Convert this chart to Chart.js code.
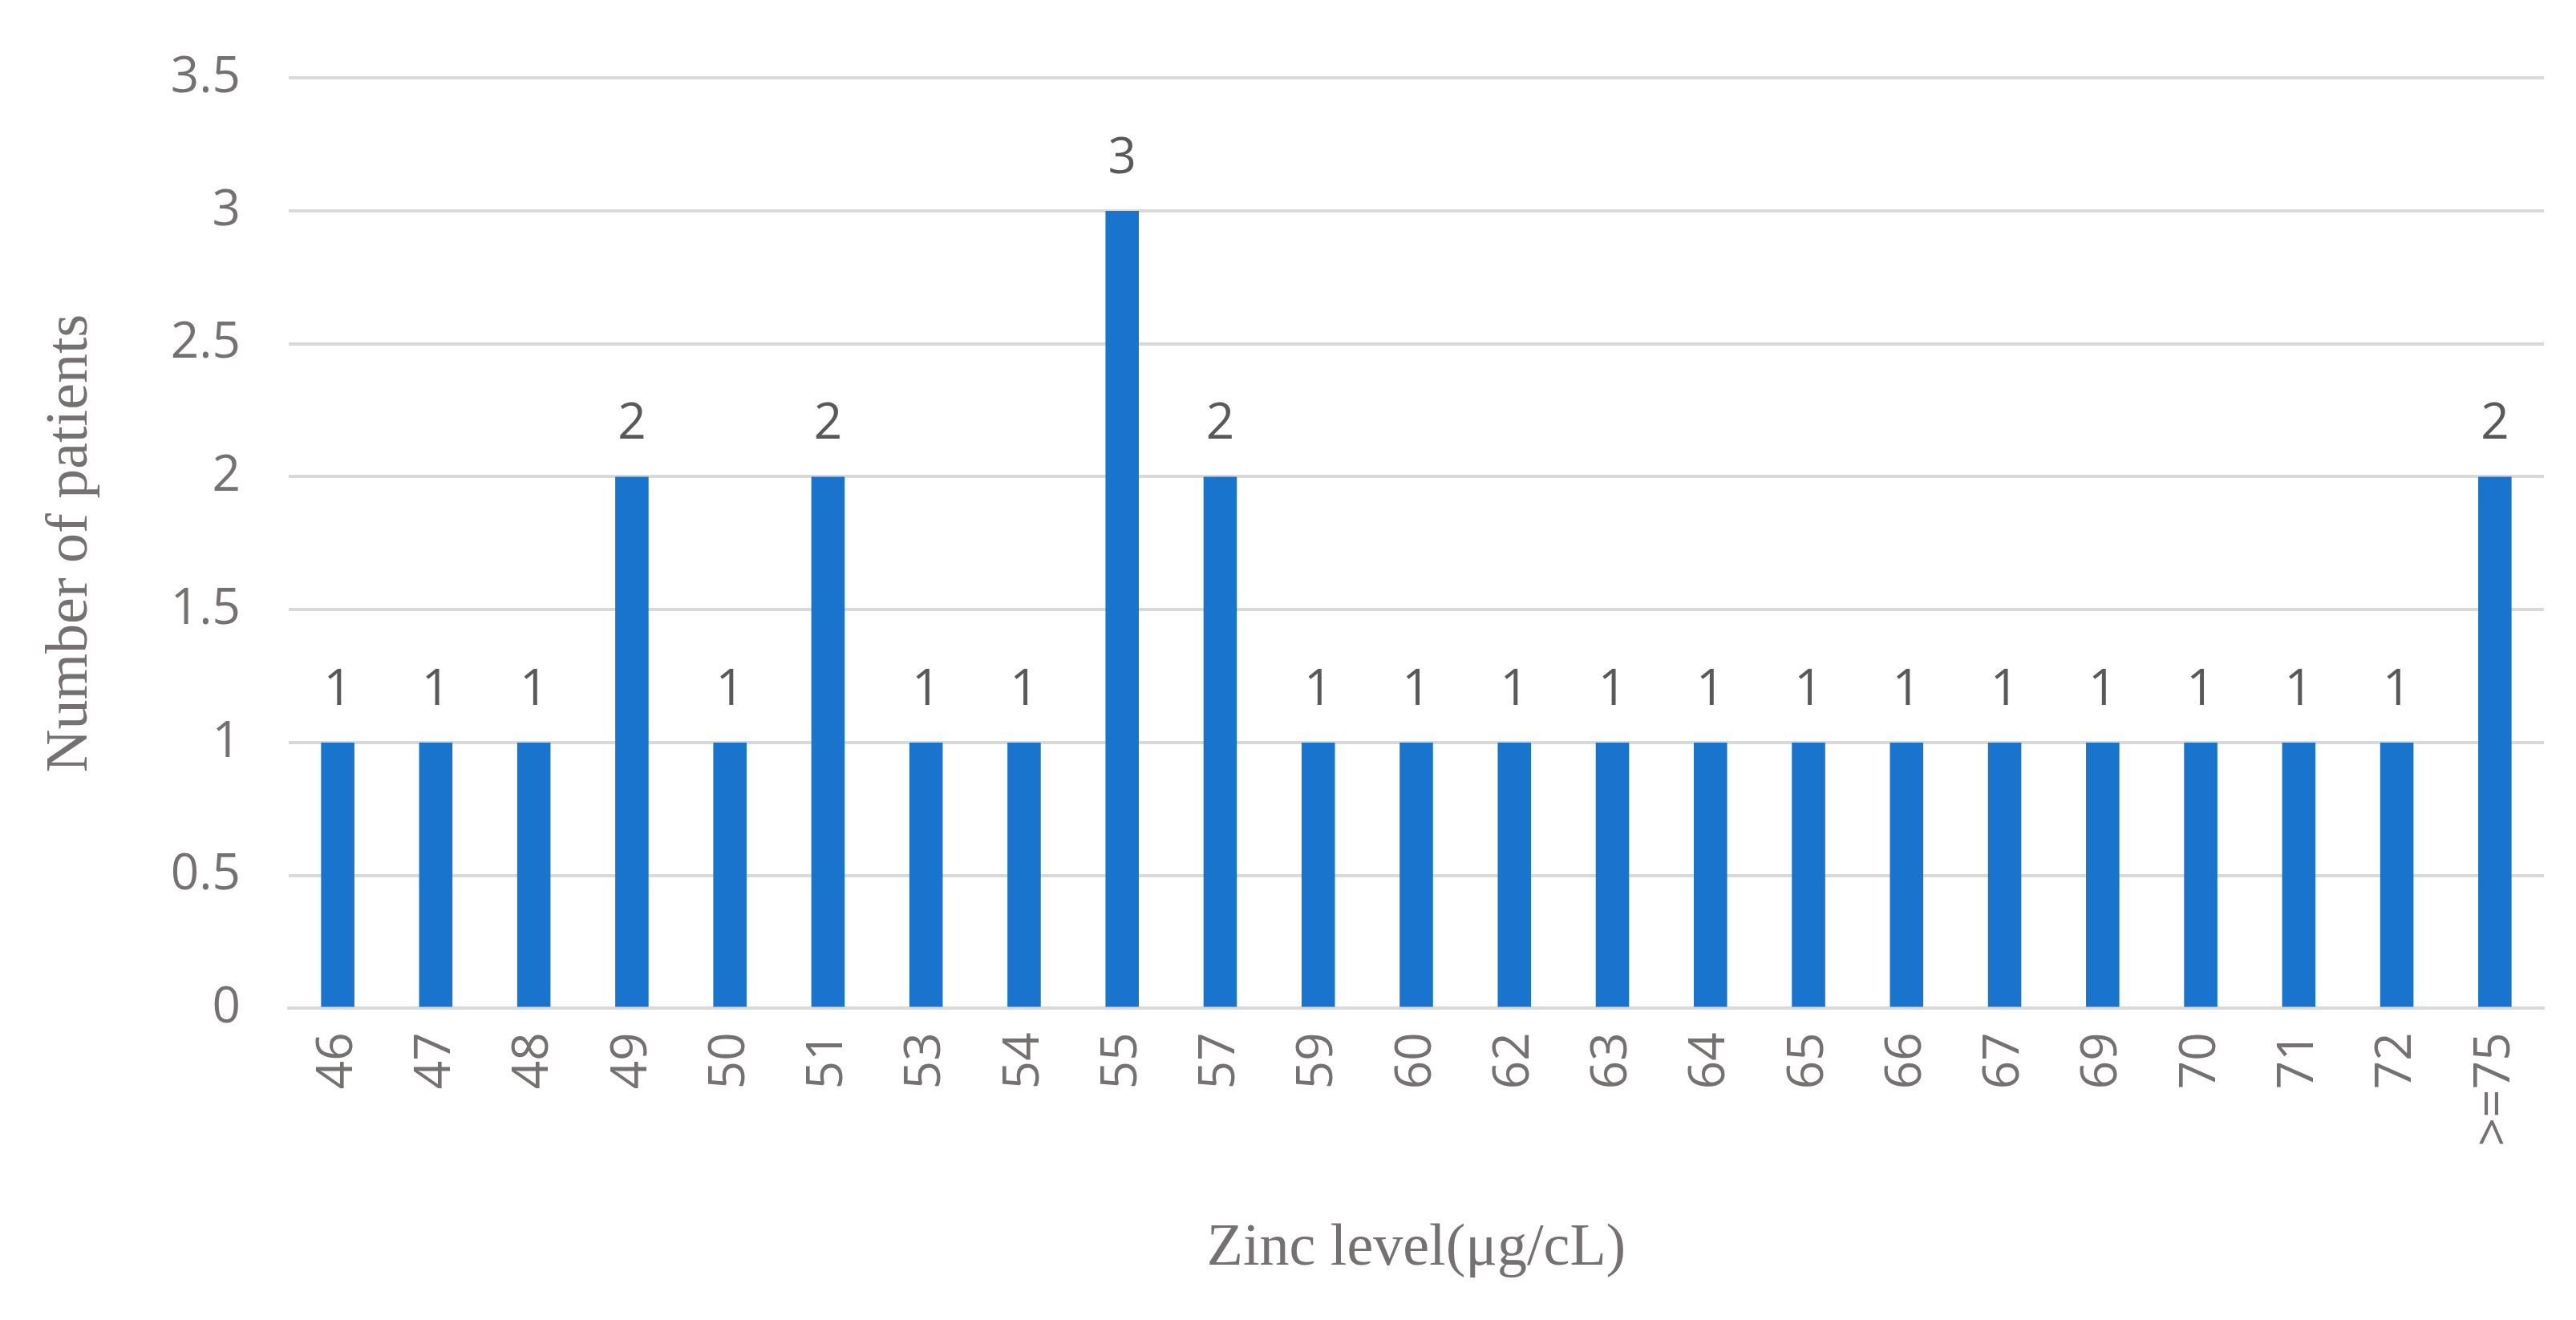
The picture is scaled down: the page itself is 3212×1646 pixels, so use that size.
<!DOCTYPE html>
<html>
<head>
<meta charset="utf-8">
<script src="https://cdn.jsdelivr.net/npm/chart.js@4"></script>
<style>
  html, body { margin: 0; padding: 0; background: #fff; }
  #wrap { width: 3212px; height: 1646px; }
</style>
</head>
<body>
<div id="wrap"><canvas id="grafico" width="3212" height="1646"></canvas></div>
<script>
const categorias = ["46","47","48","49","50","51","53","54","55","57","59","60","62","63","64","65","66","67","69","70","71","72",">=75"];
const pacientes = [1,1,1,2,1,2,1,1,3,2,1,1,1,1,1,1,1,1,1,1,1,1,2];
const gris = "#767171";
const fuenteTicks = "'Open Sans', 'Liberation Sans', sans-serif";
const fuenteTitulo = "'Liberation Serif', 'DejaVu Serif', serif";

// etiquetas de valor encima de cada barra + etiquetas x giradas (abajo hacia arriba)
const etiquetas = {
  id: "etiquetas",
  afterDatasetsDraw(chart) {
    const ctx = chart.ctx;
    const meta = chart.getDatasetMeta(0);
    ctx.save();
    ctx.fillStyle = "#595959";
    ctx.font = "62px " + fuenteTicks;
    ctx.textAlign = "center";
    ctx.textBaseline = "bottom";
    meta.data.forEach((bar, i) => {
      ctx.fillText(pacientes[i], bar.x, bar.y - 34);
    });
    const xs = chart.scales.x;
    ctx.fillStyle = gris;
    ctx.textAlign = "right";
    ctx.textBaseline = "middle";
    categorias.forEach((c, i) => {
      const x = xs.getPixelForValue(i);
      ctx.save();
      ctx.translate(x, xs.top + 30);
      ctx.rotate(-Math.PI / 2);
      ctx.fillText(c, 0, 0);
      ctx.restore();
    });
    ctx.restore();
  }
};

new Chart(document.getElementById("grafico"), {
  type: "bar",
  data: {
    labels: categorias,
    datasets: [{
      data: pacientes,
      backgroundColor: "#1874cd",
      categoryPercentage: 1,
      barPercentage: 0.34
    }]
  },
  options: {
    responsive: false,
    devicePixelRatio: 1,
    animation: false,
    layout: { padding: { left: 40, right: 40, top: 70, bottom: 40 } },
    plugins: { legend: { display: false }, tooltip: { enabled: false } },
    scales: {
      x: {
        grid: { display: false },
        border: { color: "#d9d9d9", width: 4 },
        ticks: { color: "rgba(0,0,0,0)", font: { size: 62, family: fuenteTicks }, minRotation: 90, maxRotation: 90, padding: 18 },
        title: { display: true, text: "Zinc level(μg/cL)", color: gris, font: { size: 74, family: fuenteTitulo }, padding: { top: 70 } }
      },
      y: {
        min: 0, max: 3.5,
        grid: { color: "#d9d9d9", lineWidth: 4, drawTicks: false },
        border: { display: false },
        ticks: { stepSize: 0.5, color: gris, font: { size: 62, family: fuenteTicks }, padding: 60, callback: v => String(v) },
        title: { display: true, text: "Number of patients", color: gris, font: { size: 74, family: fuenteTitulo }, padding: { bottom: 20 } }
      }
    }
  },
  plugins: [etiquetas]
});
</script>
</body>
</html>
